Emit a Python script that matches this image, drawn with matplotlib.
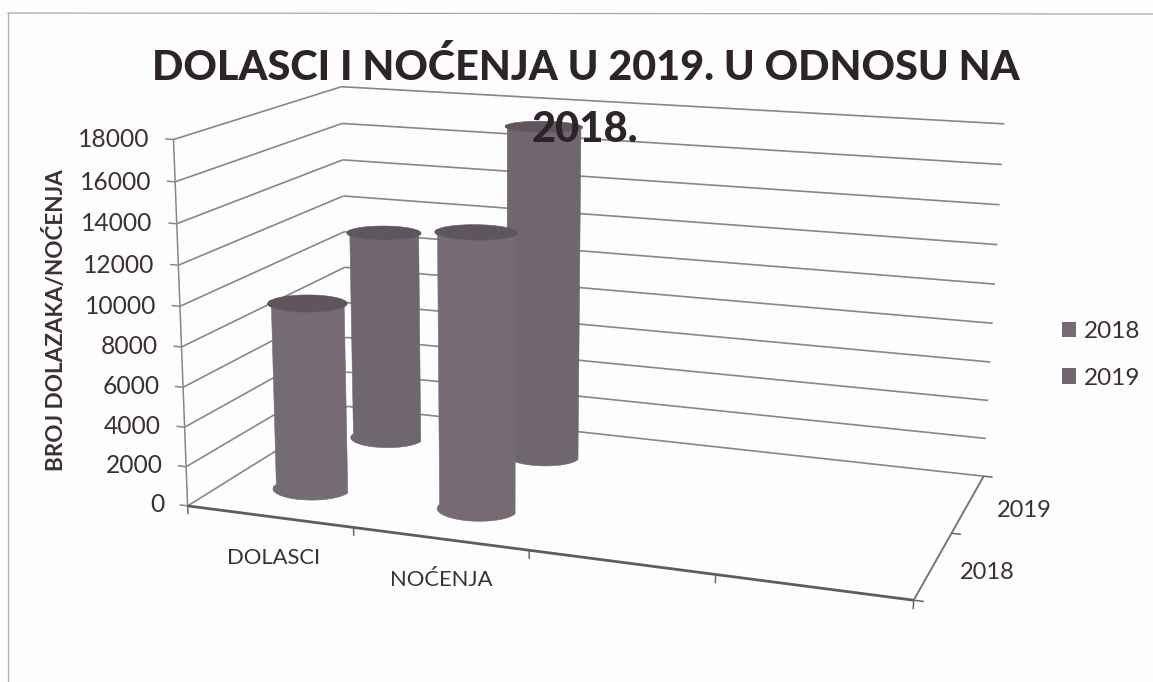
import numpy as np
import matplotlib
matplotlib.use("Agg")
import matplotlib.pyplot as plt
from matplotlib.lines import Line2D
from matplotlib.patches import Patch
from mpl_toolkits.mplot3d.art3d import Poly3DCollection, Line3DCollection

categories = ["DOLASCI", "NOĆENJA"]
series_names = ["2018", "2019"]
values_2018 = [9500, 13700]
values_2019 = [11200, 17300]
z_ticks = [0, 2000, 4000, 6000, 8000, 10000, 12000, 14000, 16000, 18000]
title_lines = ["DOLASCI I NOĆENJA U 2019. U ODNOSU NA", "2018."]
y_title = "BROJ DOLAZAKA/NOĆENJA"

W, H = 1153, 682
plt.rcParams['font.family'] = ['Lato', 'DejaVu Sans']
TXT = '#3b3036'
GRID = '#8a858a'
BAR = {"2018": '#746b75', "2019": '#6f6670'}
CAP = '#5f555e'

# camera calibration: world anchors (category, series, value) -> picture position
world = np.array([(0, 0, 0), (4, 0, 0), (4, 2, 0), (0, 2, 0), (0, 0, 18000), (0, 2, 18000), (4, 2, 18000),
                  (1, 0, 0), (2, 0, 0), (3, 0, 0)], float)
world[:, 2] /= 18000
pict = np.array([(190, 505), (913, 602), (985, 473), (345, 408), (172, 138), (343, 87), (1004, 125),
                 (354, 527), (529, 551), (715, 575)], float)
A, b = [], []
for (X, Y, Z), (u, v) in zip(world, pict):
    A.append([X, Y, Z, 1, 0, 0, 0, 0, -u * X, -u * Y, -u * Z]); b.append(u)
    A.append([0, 0, 0, 0, X, Y, Z, 1, -v * X, -v * Y, -v * Z]); b.append(v)
p = np.linalg.lstsq(np.array(A), np.array(b), rcond=None)[0]
P = np.array([[p[0], p[1], p[2] / 18000, p[3]], [p[4], p[5], p[6] / 18000, p[7]],
              [p[8], p[9], p[10] / 18000, 1.0]])
M = np.array([P[0], P[1], [0, 0, 0, -1.0], P[2]])

fig = plt.figure(figsize=(W / 100, H / 100), dpi=100, facecolor='#fdfdfe')
ax = fig.add_axes([0, 0, 1, 1], projection='3d', computed_zorder=False)
ax.get_proj = lambda: M
ax.apply_aspect = lambda position=None: None
ax.set_axis_off()
ax.patch.set_alpha(0)
ax.viewLim.intervalx = (0, W)
ax.viewLim.intervaly = (H, 0)


def seg(x, y, z, color=GRID, lw=1.1, zo=1):
    pts = list(zip(x, y, z))
    pairs = [[pts[i], pts[i + 1]] for i in range(len(pts) - 1)]
    ax.add_collection3d(Line3DCollection(pairs, colors=color, linewidths=lw, zorder=zo))


# walls and ticks
for z in z_ticks:
    seg([0, 0, 4], [0, 2, 2], [z, z, z], lw=1.2)
    seg([-0.05, 0], [0, 0], [z, z])
    ax.text(-0.145, 0, z, str(z), ha='right', va='center_baseline', fontsize=17.7, color=TXT)
seg([0, 0], [0, 0], [0, 18000])
seg([0, 4], [0, 0], [0, 0], color='#625a62', lw=2)
seg([4, 4], [0, 2], [0, 0], color='#7a747a', lw=1.4)
for i in range(5):
    seg([i, i], [0, 0], [0, -420], color='#6a626a')
for j in range(3):
    seg([4, 4.05], [j, j], [0, 0], color='#6a626a')

# cylinders, far row first: body outline (near half of base and top), then top ellipse
RX, RY = 0.222, 0.19
theta = np.linspace(0, 2 * np.pi, 145)
near = np.linspace(np.pi, 2 * np.pi, 73)
zo = 2
for s, vals in [(1, values_2019), (0, values_2018)]:
    for c, v in enumerate(vals):
        cx, cy = c + 0.5, s + 0.5
        bx, by = cx + RX * np.cos(near), cy + RY * np.sin(near)
        body = list(zip(bx, by, np.zeros_like(near))) + list(zip(bx[::-1], by[::-1], np.full_like(near, v)))
        colour = BAR[series_names[s]]
        ax.add_collection3d(Poly3DCollection([body], facecolors=colour, edgecolors=colour, linewidths=0.4, zorder=zo))
        top = list(zip(cx + RX * np.cos(theta), cy + RY * np.sin(theta), np.full_like(theta, v)))
        ax.add_collection3d(Poly3DCollection([top], facecolors=CAP, edgecolors=CAP, linewidths=0.4, zorder=zo + 1))
        zo += 2

# category and series labels
ax.text(0.81, -0.55, 0, categories[0], ha='center', va='center', fontsize=15.8, color=TXT)
ax.text(1.74, -0.545, 0, categories[1], ha='center', va='center', fontsize=15.8, color=TXT)
ax.text(4.27, 0.52, 0, series_names[0], ha='center', va='center_baseline', fontsize=17, color=TXT)
ax.text(4.3, 1.53, 0, series_names[1], ha='center', va='center_baseline', fontsize=17, color=TXT)

# title, axis title
fig.text(585.5 / W, 1 - 80 / H, title_lines[0], ha='center', va='baseline', fontsize=29.8, fontweight='black', color='#2c2428', zorder=50)
fig.text(585 / W, 1 - 142 / H, title_lines[1], ha='center', va='baseline', fontsize=30, fontweight='black', color='#2c2428', zorder=50)
fig.text(55 / W, 1 - 320 / H, y_title, rotation=90, ha='center', va='center', fontsize=16.2, fontweight='bold', color=TXT)

# legend
leg_handles = [Patch(facecolor=BAR[n], edgecolor='none', label=n) for n in series_names]
fig.legend(handles=leg_handles, loc='upper left', bbox_to_anchor=(1062 / W, 1 - 321 / H), frameon=False,
           fontsize=17.5, labelcolor=TXT, handlelength=0.58, handleheight=0.58, handletextpad=0.3, labelspacing=1.05,
           borderpad=0, borderaxespad=0)

# scan border
fig.add_artist(Line2D([8 / W, 1, ], [1 - 13 / H, 1 - 14 / H], color='#a9a6ad', lw=0.9))
fig.add_artist(Line2D([8 / W, 8 / W], [1 - 13 / H, 0], color='#b0aeb2', lw=0.9))

fig.savefig('out.png', dpi=100, facecolor=fig.get_facecolor())
